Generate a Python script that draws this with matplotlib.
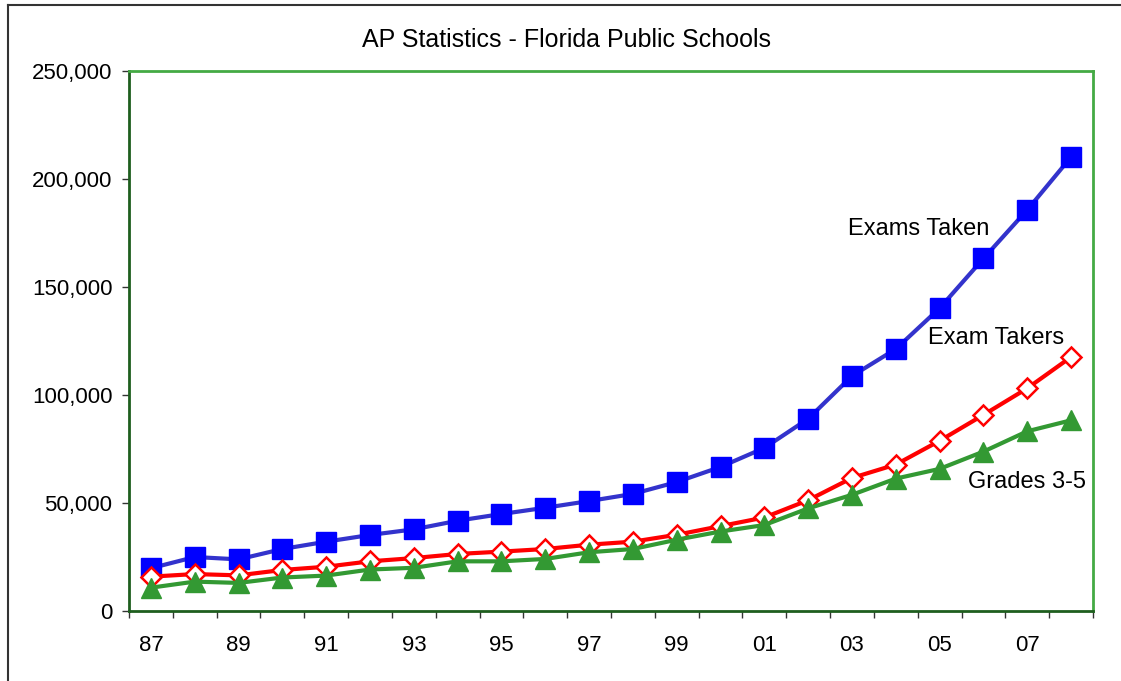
import matplotlib
matplotlib.use("Agg")
import matplotlib.pyplot as plt
from matplotlib.lines import Line2D
from matplotlib.ticker import FuncFormatter

years = ["87", "88", "89", "90", "91", "92", "93", "94", "95", "96", "97",
         "98", "99", "00", "01", "02", "03", "04", "05", "06", "07", "08"]
exams_taken = [19800, 25000, 23900, 28700, 32100, 35200, 37800, 41800, 44900, 47800, 50900,
               54200, 59700, 66700, 75500, 89000, 108800, 121300, 140200, 163200, 185700, 210200]
exam_takers = [15900, 17100, 16500, 19000, 20500, 23000, 24500, 26400, 27500, 28700, 30700,
               32100, 35300, 39300, 43300, 51300, 61600, 67800, 78800, 90800, 103100, 117600]
grades_3_5 = [10800, 13600, 13000, 15500, 16400, 19200, 20000, 23000, 23000, 24100, 27200,
              28700, 33000, 36800, 39800, 47500, 53800, 61300, 65800, 73800, 83200, 88300]
title = "AP Statistics - Florida Public Schools"
series_labels = ["Exams Taken", "Exam Takers", "Grades 3-5"]

plt.rcParams['font.family'] = ['Liberation Sans', 'DejaVu Sans']

fig = plt.figure(figsize=(11.21, 6.81), dpi=100)
ax = fig.add_axes([129/1121, 1-611/681, (1093-129)/1121, (611-71)/681])

x = list(range(len(years)))
ax.plot(x, exams_taken, color="#3333CC", lw=3, marker="s", ms=15,
        mfc="#0000FF", mec="#0000FF", zorder=3)
ax.plot(x, exam_takers, color="#FF0000", lw=3, marker="D", ms=10.5,
        mfc="white", mec="#FF0000", mew=1.8, zorder=4)
ax.plot(x, grades_3_5, color="#339933", lw=3, marker="^", ms=15,
        mfc="#339933", mec="#339933", zorder=5)

ax.set_xlim(-0.5, len(years) - 0.5)
ax.set_ylim(0, 250000)
ax.set_yticks(range(0, 250001, 50000))
ax.yaxis.set_major_formatter(FuncFormatter(lambda v, p: f"{int(v):,}"))
ax.set_xticks(x[::2])
ax.set_xticklabels(years[::2])
ax.set_xticks([i - 0.5 for i in range(len(years) + 1)], minor=True)
ax.tick_params(axis="x", which="major", length=0, pad=17, labelsize=16)
ax.tick_params(axis="x", which="minor", length=5, width=1, color="#333333")
ax.tick_params(axis="y", length=5, width=1, color="#333333", labelsize=16, pad=7)

for s in ["left", "bottom"]:
    ax.spines[s].set_color("#1E5E1E")
    ax.spines[s].set_linewidth(2)
for s in ["top", "right"]:
    ax.spines[s].set_color("#44AA44")
    ax.spines[s].set_linewidth(2)

fig.text(567/1121, 1-40/681, title, ha="center", va="center", fontsize=18)

ax.text(15.91, 176900, series_labels[0], fontsize=17, ha="left", va="center")
ax.text(17.73, 126400, series_labels[1], fontsize=17, ha="left", va="center")
ax.text(18.65, 59700, series_labels[2], fontsize=17, ha="left", va="center")

fig.add_artist(Line2D([8/1121, 8/1121], [0, 1-5/681], color="#333333", lw=1.5,
                      transform=fig.transFigure))
fig.add_artist(Line2D([8/1121, 1], [1-5/681, 1-5/681], color="#333333", lw=1.5,
                      transform=fig.transFigure))

fig.savefig("out.png", dpi=100)
